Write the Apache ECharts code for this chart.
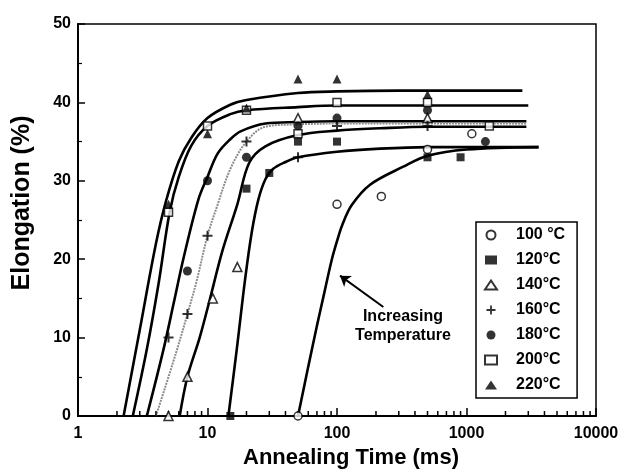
<!DOCTYPE html>
<html><head><meta charset="utf-8">
<script src="https://cdn.jsdelivr.net/npm/echarts@6/dist/echarts.min.js"></script>
<style>html,body{margin:0;padding:0;background:#fff}#c{width:629px;height:471px}</style>
</head><body><div id="c"></div>
<script>
// ---- data ----
const seriesNames = ['100 °C', '120°C', '140°C', '160°C', '180°C', '200°C', '220°C'];
const xTickValues = [1, 10, 100, 1000, 10000];
const xMinorTicks = [2,3,4,5,6,7,8,9, 20,30,40,50,60,70,80,90, 200,300,400,500,600,700,800,900, 2000,3000,4000,5000,6000,7000,8000,9000];
const yTickValues = [0, 10, 20, 30, 40, 50];

// measured points [time ms, elongation %]
const pts100 = [[50,0],[100,27],[220,28],[500,34],[1100,36]];
const pts120 = [[15,0],[20,29],[30,31],[50,35],[100,35],[500,33],[900,33]];
const pts140 = [[5,0],[7,5],[11,15],[17,19],[50,38],[500,38]];
const pts160 = [[5,10],[7,13],[10,23],[20,35],[50,33],[100,37],[500,37]];
const pts180 = [[7,18.5],[10,30],[20,33],[50,37],[100,38],[500,39],[1400,35]];
const pts200 = [[5,26],[10,37],[20,39],[50,36],[100,40],[500,40],[1500,37]];
const pts220 = [[5,27],[10,36],[20,39.3],[50,43],[100,43],[500,41]];

// fitted curves
const fit100 = [[50,0],[60,6.3],[70,11.5],[80,15.8],[91,19.9],[100,22.3],[110,24.4],[130,26.9],[180,29.5],[325,31.8],[500,33.2],[1000,34],[3600,34.3]];
const fit120 = [[14.5,0],[16.8,8.4],[19.5,17.4],[22,23.5],[24.7,27.6],[28,30.2],[32,31.5],[40,32.4],[50,33],[100,33.7],[215,34.1],[500,34.3],[3600,34.3]];
const fit140 = [[6.1,0],[7,5],[8.7,10],[10.4,14.8],[13,21],[17,27],[21,32.3],[28,34.4],[49,35.8],[100,36.4],[215,36.7],[500,36.9],[2900,36.9]];
const fit160 = [[4.0,0],[5.7,8],[7,13],[8.3,17.4],[10,23],[12,27],[15,31.5],[20,35],[28,36.9],[50,37.2],[100,37.3],[2900,37.3]];
const fit180 = [[3.4,0],[4.56,8.4],[5.5,14.5],[6.5,20],[8.5,27.6],[10,30.5],[12,33.5],[15,35.3],[18,36.3],[28,37.3],[50,37.5],[100,37.6],[2900,37.6]];
const fit200 = [[2.65,0],[3.4,8.5],[4.2,17],[5.1,26],[6,30.5],[7.5,34.5],[10,37],[15,38.5],[20,39],[50,39.4],[100,39.6],[3000,39.6]];
const fit220 = [[2.25,0],[3.0,11],[4.0,22],[4.8,27.5],[6,32.5],[7.5,35.5],[10,38],[15,39.7],[20,40.3],[50,41.2],[100,41.4],[300,41.5],[2700,41.5]];

const annotationText = 'Increasing\nTemperature';
const annotationAt = [323, 11.5];
const arrowFrom = [228, 13.9];
const arrowTo = [105.5, 17.9];

// ---- chart ----
const FONT = '"Liberation Sans", Arial, Helvetica, sans-serif';
const PLUS = 'path://M4,0H6V4H10V6H6V10H4V6H0V4H4Z';
const pointSets = [pts100, pts120, pts140, pts160, pts180, pts200, pts220];
const fitSets = [fit100, fit120, fit140, fit160, fit180, fit200, fit220];
const markerDefs = [
  {symbol: 'circle', size: 8, open: true},
  {symbol: 'rect', size: 8, open: false},
  {symbol: 'triangle', size: 9, open: true},
  {symbol: PLUS, size: 10, open: false},
  {symbol: 'circle', size: 9, open: false},
  {symbol: 'rect', size: 8, open: true},
  {symbol: 'triangle', size: 9, open: false}
];

const series = [];
fitSets.forEach((d, i) => {
  const gray = i === 3;
  const s = {
    name: 'fit' + i, type: 'line', data: d, showSymbol: false, symbol: 'none',
    smooth: 0.35, silent: true, z: gray ? 3 : 2,
    lineStyle: gray ? {color: '#8c8c8c', width: 2, type: [2, 1]} : {color: '#000', width: 2.6}
  };
  if (i === 0) {
    s.markLine = {
      silent: true, symbol: ['none', 'arrow'], symbolSize: 10,
      label: {show: false},
      lineStyle: {color: '#000', width: 2, type: 'solid'},
      data: [[{coord: arrowFrom}, {coord: arrowTo}]]
    };
    s.markPoint = {
      silent: true, symbol: 'circle', symbolSize: 0,
      data: [{coord: annotationAt, label: {show: true, position: 'inside', formatter: annotationText,
        fontFamily: FONT, fontSize: 16, fontWeight: 'bold', lineHeight: 19, color: '#000', align: 'center'}}]
    };
  }
  series.push(s);
});
pointSets.forEach((d, i) => {
  const m = markerDefs[i];
  series.push({
    name: seriesNames[i], type: 'scatter', data: d, symbol: m.symbol, symbolSize: m.size, z: 5,
    itemStyle: m.open ? {color: '#fff', borderColor: '#000', borderWidth: 1.5} : {color: '#000'}
  });
});
series.push({
  name: 'minorTicks', type: 'custom', silent: true, z: 4,
  data: xMinorTicks.map(v => [v, 0]),
  encode: {x: 0, y: 1},
  renderItem: function (params, api) {
    const p = api.coord([api.value(0), api.value(1)]);
    return {type: 'line', shape: {x1: p[0], y1: p[1], x2: p[0], y2: p[1] - 5}, style: {stroke: '#000', lineWidth: 1.5}};
  }
});

const chart = echarts.init(document.getElementById('c'), null, {renderer: 'canvas'});
chart.setOption({
  animation: false,
  backgroundColor: '#fff',
  grid: {left: 78, right: 33, top: 24, bottom: 55, show: true, borderColor: '#000', borderWidth: 1.5, outerBoundsMode: 'none'},
  legend: {
    orient: 'vertical', left: 476, top: 222,
    data: seriesNames,
    borderColor: '#000', borderWidth: 1.5, padding: [5, 12, 5, 8],
    itemWidth: 12, itemHeight: 9, itemGap: 9,
    textStyle: {fontFamily: FONT, fontSize: 16, fontWeight: 'bold', color: '#000', lineHeight: 16, padding: [0, 0, 0, 14]},
    selectedMode: false
  },
  xAxis: {
    type: 'log', logBase: 10, min: 1, max: 10000,
    name: 'Annealing Time (ms)', nameLocation: 'middle', nameGap: 30,
    nameTextStyle: {fontFamily: FONT, fontSize: 22, fontWeight: 'bold', color: '#000', padding: [0, 0, 0, 28]},
    axisLine: {show: true, lineStyle: {color: '#000', width: 2}},
    axisTick: {show: true, inside: true, length: 8, lineStyle: {color: '#000', width: 1.5}},
    splitLine: {show: false},
    minorTick: {show: false},
    axisLabel: {fontFamily: FONT, fontSize: 16, fontWeight: 'bold', color: '#000', margin: 10,
      formatter: v => { const r = Math.round(v); return xTickValues.indexOf(r) >= 0 ? String(r) : ''; }}
  },
  yAxis: {
    type: 'value', min: 0, max: 50, interval: 10,
    name: 'Elongation (%)', nameLocation: 'middle', nameGap: 43,
    nameTextStyle: {fontFamily: FONT, fontSize: 25, fontWeight: 'bold', color: '#000', padding: [0, 0, 0, 34]},
    axisLine: {show: true, lineStyle: {color: '#000', width: 2}},
    axisTick: {show: true, inside: true, length: 7, lineStyle: {color: '#000', width: 1.5}},
    minorTick: {show: true, splitNumber: 2, length: 4, lineStyle: {color: '#000', width: 1.2}},
    splitLine: {show: false},
    axisLabel: {fontFamily: FONT, fontSize: 16, fontWeight: 'bold', color: '#000', margin: 7,
      formatter: v => yTickValues.indexOf(v) >= 0 ? String(v) : ''}
  },
  series: series
});
</script>
</body></html>
